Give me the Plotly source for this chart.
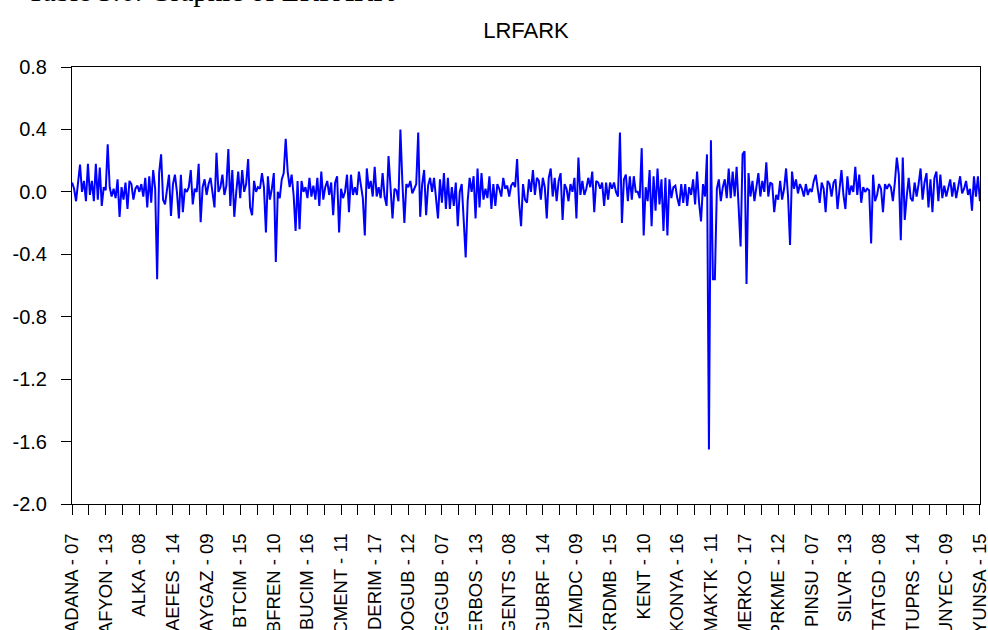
import plotly.graph_objects as go

# LRFARK, firm-year panel observations in panel order (rows of ten)
lrfark_part1 = [
    0.06, 0.02, -0.06, 0.05, 0.175, 0.00, 0.07, -0.06, 0.18, -0.02,
    0.07, -0.06, 0.18, -0.05, 0.155, -0.09, 0.03, 0.01, 0.305, 0.03,
    -0.03, 0.02, -0.04, 0.08, -0.16, 0.03, -0.05, 0.06, -0.11, 0.07,
    0.05, -0.05, 0.02, 0.04, 0.00, 0.05, -0.03, 0.09, -0.10, 0.10,
    -0.07, 0.14, 0.02, -0.56, 0.12, 0.24, -0.05, -0.08, 0.03, 0.11,
    -0.155, 0.05, 0.11, 0.00, -0.17, 0.11, -0.13, 0.02, 0.00, 0.03,
    0.14, -0.08, 0.02, 0.00, 0.18, -0.195, 0.03, 0.08, -0.02, 0.05,
    0.09, -0.02, -0.10, 0.25, 0.00, 0.03, 0.11, -0.02, 0.04, 0.275,
    -0.09, 0.14, -0.16, 0.00, 0.13, -0.04, 0.14, 0.00, 0.05, 0.21,
    -0.10, -0.15,
]
lrfark_part2 = [
    0.07, 0.00, 0.03, 0.02, 0.12, 0.03, -0.26, 0.10,
    -0.05, 0.02, 0.12, -0.45, 0.00, -0.04, 0.08, 0.12, 0.34, 0.13,
    0.03, 0.11, -0.02, -0.25, 0.07, -0.24, 0.07, 0.00, 0.03, -0.04,
    0.09, -0.03, 0.04, -0.05, 0.09, -0.09, 0.13, -0.05, 0.03, 0.07,
    -0.02, 0.06, -0.15, 0.06, 0.10, -0.26, 0.02, -0.04, 0.00, 0.11,
    -0.13, 0.11, -0.02, 0.03, -0.02, 0.13, 0.04, -0.04, -0.28, 0.15,
    0.02, 0.07, -0.03, 0.16, -0.03, 0.03, -0.04, 0.12, -0.03, -0.09,
    0.23, 0.03, -0.17, 0.02, 0.01, -0.06, 0.40, 0.06, -0.20, 0.05,
    0.03, 0.07, -0.01, 0.02, 0.05, 0.38, -0.16, 0.05, 0.14, -0.15,
    0.04, 0.09, 0.00, 0.09,
]
lrfark_part3 = [
    -0.07, -0.17, 0.08, -0.07, 0.12, -0.11, 0.09, -0.11, 0.03, -0.09,
    0.06, -0.22, 0.00, 0.05, -0.18, -0.42, -0.06, 0.09, 0.00, 0.10,
    -0.17, 0.15, -0.10, 0.12, -0.05, 0.02, -0.04, 0.10, -0.11, 0.05,
    -0.09, 0.05, 0.02, -0.03, 0.09, 0.02, 0.04, -0.03, 0.04, 0.06,
    0.03, 0.21, -0.07, -0.22, 0.05, -0.05, -0.07, 0.08, 0.00, 0.14,
    -0.02, 0.09, 0.07, -0.05, 0.09, 0.03, -0.17, 0.09, 0.15, -0.03,
    0.09, -0.06, 0.07, 0.12, -0.18, 0.05, 0.02, -0.06, 0.05, 0.00,
    0.09, -0.17, 0.22, -0.02, 0.07, -0.02, 0.02, 0.09, 0.03, 0.13,
    -0.13, 0.07, 0.06, 0.02, 0.06, -0.09, 0.06, -0.05, 0.06, 0.02,
    0.06, 0.00,
]
lrfark_part4 = [
    -0.03, 0.38, -0.20, 0.08, 0.11, -0.06, 0.10, -0.05, 0.10, 0.00,
    0.00, -0.04, 0.28, -0.28, 0.03, -0.06, 0.14, -0.22, 0.10, -0.12,
    0.15, -0.08, 0.08, -0.25, 0.09, -0.28, 0.08, -0.04, 0.03, 0.04,
    -0.04, -0.09, 0.05, -0.07, 0.05, -0.09, 0.03, -0.02, 0.08, -0.08,
    0.13, -0.07, -0.19, 0.05, -0.03, 0.24, -1.65, 0.33, -0.56, -0.56,
    0.02, 0.08, -0.06, 0.03, 0.08, -0.04, 0.15, -0.04, 0.13, -0.03,
    0.16, -0.12, -0.35, 0.24, 0.26, -0.59, 0.12, -0.03, 0.07, -0.06,
    0.03, 0.12, -0.03, 0.07, 0.00, 0.19, -0.03, 0.06, 0.05, -0.13,
    -0.02, -0.05, 0.07, -0.05, 0.02, 0.15, -0.03, -0.34, 0.13, 0.02,
    0.08, -0.01,
]
lrfark_part5 = [
    0.05, 0.02, -0.03, 0.05, -0.02, 0.02, 0.00, 0.07, 0.11, 0.03,
    -0.07, 0.06, 0.02, -0.13, 0.07, 0.05, -0.03, 0.06, 0.08, -0.11,
    0.03, 0.14, -0.02, -0.11, 0.10, -0.02, 0.04, 0.00, 0.16, -0.02,
    0.11, -0.07, 0.03, 0.00, 0.02, 0.01, -0.33, 0.11, -0.06, -0.02,
    0.05, 0.02, -0.13, 0.05, 0.02, 0.05, 0.03, -0.06, 0.06, 0.22,
    0.11, -0.31, 0.22, -0.18, -0.03, 0.09, -0.04, -0.06, 0.06, -0.03,
    0.05, 0.15, -0.05, 0.06, 0.12, -0.10, 0.08, -0.13, 0.09, 0.13,
    -0.06, 0.11, -0.04, 0.04, -0.03, 0.03, 0.08, -0.03, 0.06, -0.04,
    0.04, 0.10, -0.01, 0.02, 0.07, -0.02, 0.02, -0.12, 0.10, -0.03,
    0.10, -0.06,
]
lrfark = lrfark_part1 + lrfark_part2 + lrfark_part3 + lrfark_part4 + lrfark_part5
obs = list(range(len(lrfark)))

# Firm-year labels shown on the horizontal axis, one every 17 observations
x_labels = [
    "ADANA - 07", "AFYON - 13", "ALKA - 08", "AEFES - 14", "AYGAZ - 09",
    "BTCIM - 15", "BFREN - 10", "BUCIM - 16", "CMENT - 11", "DERIM - 17",
    "DOGUB - 12", "EGGUB - 07", "ERBOS - 13", "GENTS - 08", "GUBRF - 14",
    "IZMDC - 09", "KRDMB - 15", "KENT - 10", "KONYA - 16", "MAKTK - 11",
    "MERKO - 17", "PRKME - 12", "PINSU - 07", "SILVR - 13", "TATGD - 08",
    "TUPRS - 14", "UNYEC - 09", "YUNSA - 15",
]
x_label_step = 17
x_tick_pos = [i * x_label_step for i in range(len(x_labels))]

y_ticks = [-2.0, -1.6, -1.2, -0.8, -0.4, 0.0, 0.4, 0.8]
y_tick_text = ["-2.0", "-1.6", "-1.2", "-0.8", "-0.4", "0.0", "0.4", "0.8"]

sans = "Liberation Sans, Arial, sans-serif"

fig = go.Figure()
fig.add_trace(go.Scatter(
    x=obs, y=lrfark, mode="lines",
    line=dict(color="#0000FF", width=2),
    hoverinfo="skip", showlegend=False,
))

fig.update_layout(
    width=988, height=630,
    margin=dict(l=72, r=8, t=67, b=126, autoexpand=False),
    paper_bgcolor="white", plot_bgcolor="white",
    title=dict(
        text="LRFARK", x=0.5, xref="paper", xanchor="center",
        y=1 - 30 / 630, yref="container", yanchor="middle",
        font=dict(family=sans, size=22, color="black"),
    ),
    annotations=[dict(
        text="Table 3.6: Graphic of LRFARK",
        xref="paper", yref="paper", x=-0.052, y=1.132,
        xanchor="left", yanchor="bottom", showarrow=False,
        font=dict(family="Liberation Serif, Times New Roman, serif", size=29, color="black"),
    )],
)

fig.update_xaxes(
    range=[-0.05, len(lrfark) - 1 + 0.05],
    tickmode="array", tickvals=x_tick_pos, ticktext=x_labels,
    tickangle=-90, ticks="outside", ticklen=10, tickcolor="black",
    ticklabelstandoff=11, ticklabeloverflow="allow", automargin=False,
    minor=dict(ticks="outside", ticklen=10, tickcolor="black",
               tick0=0, dtick=x_label_step / 2),
    showgrid=False, zeroline=False,
    showline=True, linecolor="black", linewidth=1, mirror=True,
    tickfont=dict(family=sans, size=18.5, color="black"),
)
fig.update_yaxes(
    range=[-2.0, 0.8],
    tickmode="array", tickvals=y_ticks, ticktext=y_tick_text,
    ticks="outside", ticklen=10, tickcolor="black",
    ticklabelstandoff=10, automargin=False,
    showgrid=False, zeroline=False,
    showline=True, linecolor="black", linewidth=1, mirror=True,
    tickfont=dict(family=sans, size=20, color="black"),
)

fig.write_html("out.html")
